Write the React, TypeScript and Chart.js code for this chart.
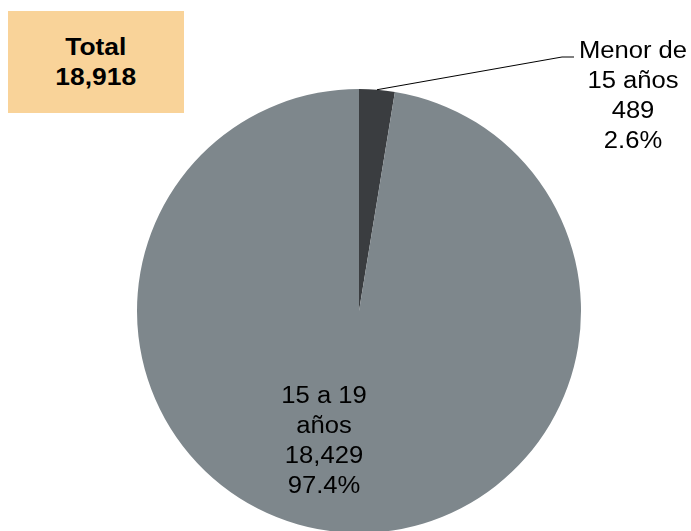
import React, { useEffect, useRef } from "react";
import { Chart, registerables } from "chart.js";

Chart.register(...registerables);

const categories = ["Menor de 15 años", "15 a 19 años"];
const values = [489, 18429];
const percents = ["2.6%", "97.4%"];
const total = "18,918";
const colors = ["#3A3D40", "#7E878C"];

const FONT = "'Liberation Sans', Arial, sans-serif";
const STRETCH = 1.09;

function stretchedText(ctx: CanvasRenderingContext2D, t: string, x: number, y: number) {
  ctx.save();
  ctx.translate(x, y);
  ctx.scale(STRETCH, 1);
  ctx.fillText(t, 0, 0);
  ctx.restore();
}

const labelPlugin = {
  id: "pieLabels",
  afterDraw(chart: any) {
    const ctx = chart.ctx as CanvasRenderingContext2D;
    const meta = chart.getDatasetMeta(0);
    const arc0 = meta.data[0] as any;
    const { x: cx, y: cy, outerRadius, startAngle, endAngle } = arc0.getProps(
      ["x", "y", "outerRadius", "startAngle", "endAngle"],
      true
    );
    const mid = (startAngle + endAngle) / 2;
    const sx = cx + Math.cos(mid) * outerRadius;
    const sy = cy + Math.sin(mid) * outerRadius;
    ctx.save();
    ctx.strokeStyle = "#000";
    ctx.lineWidth = 1;
    ctx.beginPath();
    ctx.moveTo(sx, sy);
    ctx.lineTo(cx + 203, cy - 254);
    ctx.lineTo(cx + 215, cy - 254);
    ctx.stroke();

    ctx.fillStyle = "#000";
    ctx.font = `23.5px ${FONT}`;
    ctx.textAlign = "center";
    ctx.textBaseline = "alphabetic";
    const l1 = ["Menor de", "15 años", values[0].toLocaleString("en-US"), percents[0]];
    l1.forEach((t, i) => stretchedText(ctx, t, cx + 274, cy - 253.5 + i * 30.3));
    const l2 = ["15 a 19", "años", values[1].toLocaleString("en-US"), percents[1]];
    l2.forEach((t, i) => stretchedText(ctx, t, cx - 35, cy + 92 + i * 30));
    ctx.restore();
  },
};

export default function App() {
  const ref = useRef<HTMLCanvasElement | null>(null);
  useEffect(() => {
    if (!ref.current) return;
    const chart = new Chart(ref.current, {
      type: "pie",
      data: {
        labels: categories,
        datasets: [
          {
            data: values,
            backgroundColor: colors,
            borderWidth: 0,
          },
        ],
      },
      options: {
        animation: false,
        responsive: false,
        devicePixelRatio: 1,
        layout: { padding: { left: 137, right: 110, top: 89, bottom: 7 } },
        plugins: { legend: { display: false }, tooltip: { enabled: false } },
      },
      plugins: [labelPlugin],
    });
    return () => chart.destroy();
  }, []);
  return (
    <div
      style={{
        position: "fixed",
        left: 0,
        top: 0,
        width: 691,
        height: 531,
        overflow: "hidden",
        background: "#fff",
      }}
    >
      <canvas ref={ref} width={691} height={540} style={{ width: 691, height: 540, display: "block" }} />
      <div
        style={{
          position: "absolute",
          left: 8,
          top: 11,
          width: 176,
          height: 102,
          background: "#F9D399",
          fontFamily: FONT,
          fontWeight: "bold",
          fontSize: 24,
          lineHeight: "30px",
          textAlign: "center",
          display: "flex",
          flexDirection: "column",
          justifyContent: "center",
          alignItems: "center",
          color: "#000",
        }}
      >
        <div style={{ transform: "scaleX(1.1)" }}>Total</div>
        <div style={{ transform: "scaleX(1.1)" }}>{total}</div>
      </div>
    </div>
  );
}
